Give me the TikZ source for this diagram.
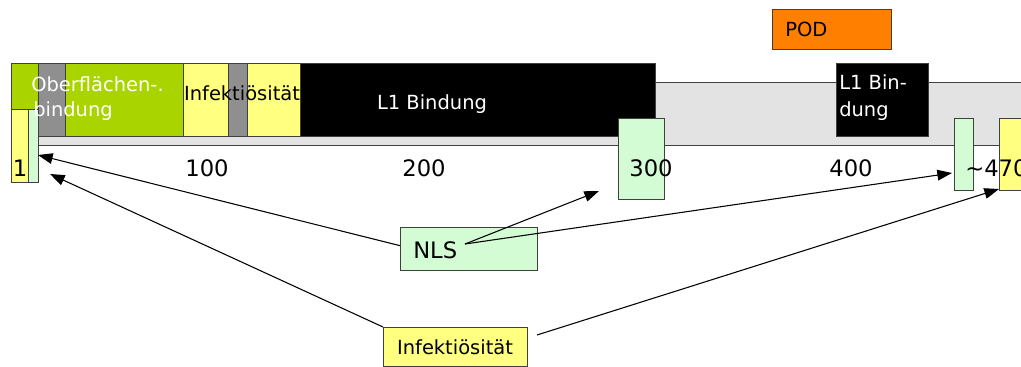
\documentclass[tikz,border=0pt]{standalone}
\usepackage{fontspec}
\setmainfont{DejaVu Sans}
\usetikzlibrary{arrows.meta}
\definecolor{leaf}{HTML}{A9D400}
\definecolor{pale}{HTML}{FFFF80}
\definecolor{grau}{HTML}{8F8F8F}
\definecolor{track}{HTML}{E3E3E3}
\definecolor{mint}{HTML}{D4FCD4}
\definecolor{podorange}{HTML}{FF7F00}
\definecolor{edge}{HTML}{404040}

\begin{document}
\begin{tikzpicture}[x=0.75pt, y=-0.75pt,
  seg/.style 2 args={rectangle, draw=edge, line width=0.75pt, inner sep=0pt,
    anchor=north west, minimum width=#1*0.75pt, minimum height=#2*0.75pt},
  lbl/.style={font=\fontsize{14.6}{19}\selectfont, inner sep=0pt},
  num/.style={font=\fontsize{17}{20}\selectfont, inner sep=0pt, anchor=base},
  link/.style={-{Triangle[length=11pt,width=8pt]}, line width=0.8pt}]
  \useasboundingbox (0,0) rectangle (1021,367);

  % protein bar
  \node[seg={1000}{63}, fill=track] (track) at (38,82) {};
  \node[seg={172}{73}, fill=leaf] (bind) at (11,63) {};
  \node[seg={27}{73}, fill=grau] (g1) at (38,63) {};
  \node[seg={45}{73}, fill=pale] (inf1) at (183,63) {};
  \node[seg={19}{73}, fill=grau] (g2) at (228,63) {};
  \node[seg={53}{73}, fill=pale] (inf2) at (247,63) {};
  \node[seg={355}{73}, fill=black] (l1a) at (300,63) {};
  \node[seg={92}{73}, fill=black] (l1b) at (836,63) {};
  \node[seg={119}{40}, fill=podorange] (pod) at (772,9) {};

  \node[seg={17}{73}, fill=pale] (inf0) at (11,109) {};
  \node[seg={10}{73}, fill=mint] (nls0) at (28,109) {};
  \node[seg={46}{81}, fill=mint] (nls1) at (618,118) {};
  \node[seg={19}{72}, fill=mint] (nls2) at (954,118) {};
  \node[seg={40}{72}, fill=pale] (inf3) at (999,118) {};

  % labels
  \node[lbl, white, anchor=base west] (bindtxta) at (31,92) {Oberflächen-.};
  \node[lbl, white, anchor=base west] (bindtxtb) at (33,117) {bindung};
  \node[lbl, anchor=base] (inf1txt) at (242,101) {Infektiösität};
  \node[lbl, white, anchor=base] (l1atxt) at (432,110) {L1 Bindung};
  \node[lbl, white, anchor=base west] (l1btxta) at (839,90) {L1 Bin-};
  \node[lbl, white, anchor=base west] (l1btxtb) at (839,117) {dung};
  \node[lbl, anchor=base west] (podtxt) at (785,37) {POD};

  \node[num] (n1) at (20,177) {1};
  \node[num] (n100) at (207,177) {100};
  \node[num] (n200) at (424,177) {200};
  \node[num] (n300) at (651,177) {300};
  \node[num] (n400) at (851,177) {400};
  \node[num, anchor=base west] (n470) at (965,177) {\textasciitilde470};

  % legend boxes
  \node[seg={137}{43}, fill=mint] (nls) at (400,227) {};
  \node[num, anchor=base west] (nlstxt) at (413,258) {NLS};
  \node[seg={144}{39}, fill=pale] (infb) at (383,327) {};
  \node[lbl, anchor=base] (infbtxt) at (455,354) {Infektiösität};

  \coordinate (t0) at (38,155);
  \coordinate (t1) at (599,191);
  \coordinate (t2) at (952,173);
  \coordinate (t3) at (50,174);
  \coordinate (t4) at (999,189);
  \coordinate (nlsfoot) at (465,244);
  \coordinate (infout) at (537,335);

  \draw[link] ([yshift=2.5pt]nls.west) -- (t0);
  \draw[link] (nlsfoot) -- (t1);
  \draw[link] (nlsfoot) -- (t2);
  \draw[link] (infb.north west) -- (t3);
  \draw[link] (infout) -- (t4);
\end{tikzpicture}
\end{document}
